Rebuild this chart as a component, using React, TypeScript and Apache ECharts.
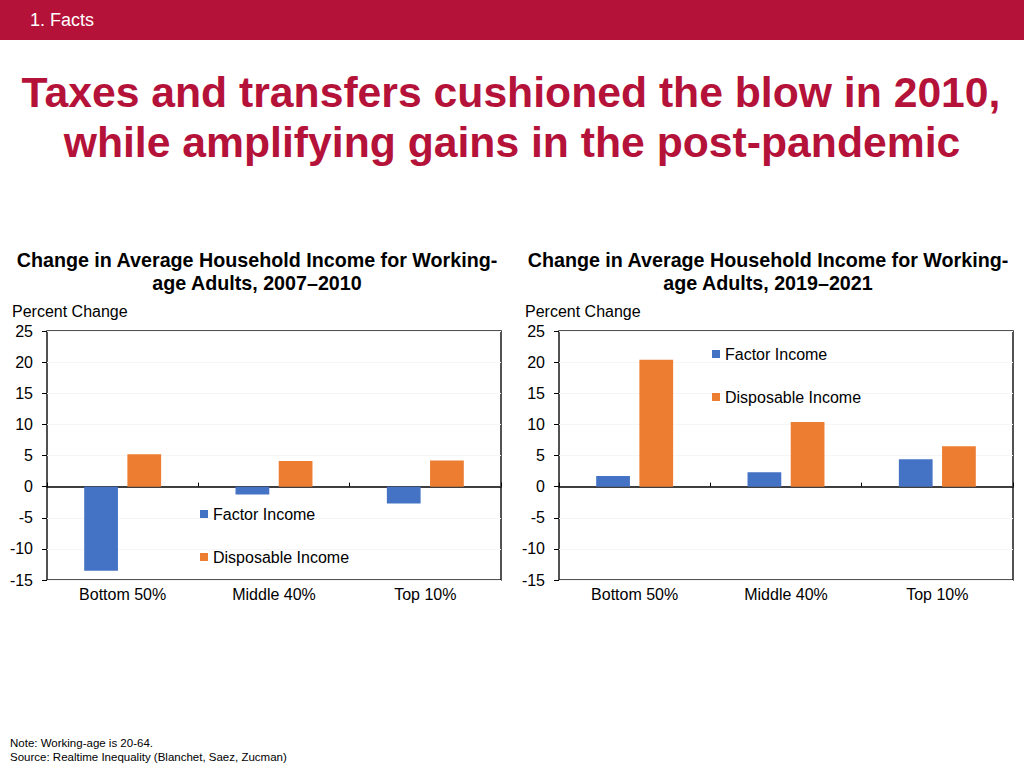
import React, { useEffect, useRef } from "react";
import * as echarts from "echarts";

const categories = ["Bottom 50%", "Middle 40%", "Top 10%"];
const seriesNames = ["Factor Income", "Disposable Income"];
const factor2007 = [-13.5, -1.25, -2.7];
const disposable2007 = [5.2, 4.1, 4.2];
const factor2019 = [1.7, 2.3, 4.4];
const disposable2019 = [20.4, 10.4, 6.5];
const yTicks = { min: -15, max: 25, interval: 5 };

const FONT = "'Liberation Sans', Arial, Helvetica, sans-serif";
const RED = "#b5123a";
const BLUE = "#4472C4";
const ORANGE = "#ED7D31";

export default function App() {
  const ref = useRef<HTMLDivElement>(null);
  useEffect(() => {
    if (!ref.current) return;
    const chart = echarts.init(ref.current, null, { renderer: "svg" });
    const grids = [
      { left: 47, top: 331, width: 454, height: 249 },
      { left: 559, top: 331, width: 454, height: 249 },
    ];
    const xAxes: any[] = [];
    const yAxes: any[] = [];
    grids.forEach((g, i) => {
      xAxes.push({
        type: "category",
        gridIndex: i,
        position: "bottom",
        data: categories,
        axisLine: { show: false, onZero: false },
        axisTick: { show: false },
        axisLabel: { color: "#000", fontSize: 16, fontFamily: FONT, margin: 6 },
        splitLine: { show: false },
      });
      xAxes.push({
        type: "category",
        gridIndex: i,
        position: "bottom",
        data: categories,
        axisLine: { show: true, onZero: true, lineStyle: { color: "#000", width: 1.5 } },
        axisTick: { show: true, inside: true, length: 4, lineStyle: { color: "#000" } },
        axisLabel: { show: false },
        splitLine: { show: false },
      });
      yAxes.push({
        type: "value",
        gridIndex: i,
        min: yTicks.min,
        max: yTicks.max,
        interval: yTicks.interval,
        axisLine: { show: false },
        axisTick: { show: true, length: 5, lineStyle: { color: "#000" } },
        axisLabel: { color: "#000", fontSize: 16, fontFamily: FONT, margin: 14 },
        splitLine: { show: true, lineStyle: { color: "#f5f5f5", width: 1 } },
      });
    });
    const mkSeries = (name: string, data: number[], xi: number, yi: number, color: string) => ({
      name,
      type: "bar",
      xAxisIndex: xi,
      yAxisIndex: yi,
      data,
      barWidth: "22.3%",
      barGap: "28%",
      itemStyle: { color },
    });
    const legendBase = {
      data: seriesNames,
      orient: "vertical",
      itemWidth: 8,
      itemHeight: 8,
      itemGap: 27,
      icon: "rect",
      textStyle: { color: "#000", fontSize: 16, fontFamily: FONT },
      selectedMode: false,
    };
    const titleText = (text: string, x: number, y: number) => ({
      type: "text",
      style: {
        text, x, y, textAlign: "center", textVerticalAlign: "middle",
        fontSize: 19.7, fontWeight: "bold", fontFamily: FONT, fill: "#000",
      },
    });
    const option: any = {
      animation: false,
      backgroundColor: "#fff",
      grid: grids.map((g) => ({
        ...g,
        show: true,
        borderColor: "#1a1a1a",
        borderWidth: 1.5,
        backgroundColor: "transparent",
      })),
      xAxis: xAxes,
      yAxis: yAxes,
      legend: [
        { ...legendBase, left: 195, top: 501 },
        { ...legendBase, left: 707, top: 341 },
      ],
      series: [
        mkSeries(seriesNames[0], factor2007, 0, 0, BLUE),
        mkSeries(seriesNames[1], disposable2007, 0, 0, ORANGE),
        mkSeries(seriesNames[0], factor2019, 2, 1, BLUE),
        mkSeries(seriesNames[1], disposable2019, 2, 1, ORANGE),
      ],
      graphic: [
        { type: "rect", shape: { x: 0, y: 0, width: 1024, height: 40 }, style: { fill: RED }, silent: true },
        {
          type: "text",
          style: { text: "1. Facts", x: 30, y: 20, textVerticalAlign: "middle", fontSize: 18, fontFamily: FONT, fill: "#fff" },
        },
        {
          type: "text",
          style: {
            text: "Taxes and transfers cushioned the blow in 2010,",
            x: 511, y: 92, textAlign: "center", textVerticalAlign: "middle",
            fontSize: 42.7, fontWeight: "bold", fontFamily: FONT, fill: RED,
          },
        },
        {
          type: "text",
          style: {
            text: "while amplifying gains in the post-pandemic",
            x: 512, y: 142, textAlign: "center", textVerticalAlign: "middle",
            fontSize: 42.7, fontWeight: "bold", fontFamily: FONT, fill: RED,
          },
        },
        titleText("Change in Average Household Income for Working-", 257, 260),
        titleText("age Adults, 2007\u20132010", 257, 283),
        titleText("Change in Average Household Income for Working-", 768, 260),
        titleText("age Adults, 2019\u20132021", 768, 283),
        {
          type: "text",
          style: { text: "Percent Change", x: 12, y: 311, textVerticalAlign: "middle", fontSize: 16, fontFamily: FONT, fill: "#000" },
        },
        {
          type: "text",
          style: { text: "Percent Change", x: 525, y: 311, textVerticalAlign: "middle", fontSize: 16, fontFamily: FONT, fill: "#000" },
        },
        {
          type: "text",
          style: { text: "Note: Working-age is 20-64.", x: 10, y: 743, textVerticalAlign: "middle", fontSize: 11.5, fontFamily: FONT, fill: "#000" },
        },
        {
          type: "text",
          style: {
            text: "Source: Realtime Inequality (Blanchet, Saez, Zucman)",
            x: 10, y: 757, textVerticalAlign: "middle", fontSize: 11.5, fontFamily: FONT, fill: "#000",
          },
        },
      ],
    };
    chart.setOption(option);
    return () => chart.dispose();
  }, []);
  return (
    <div
      ref={ref}
      style={{ position: "fixed", left: 0, top: 0, width: 1024, height: 768, background: "#fff" }}
    />
  );
}
